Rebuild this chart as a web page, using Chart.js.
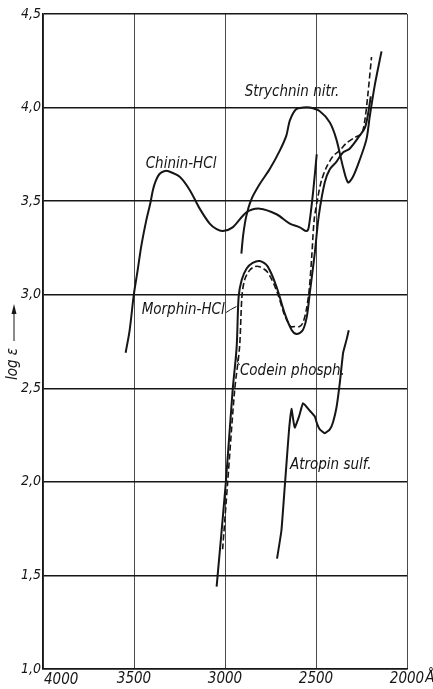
<!DOCTYPE html>
<html>
<head>
<meta charset="utf-8">
<script src="https://cdn.jsdelivr.net/npm/chart.js@4.4.1/dist/chart.umd.min.js"></script>
<style>
  html, body { margin: 0; padding: 0; background: #fff; }
  #wrap { width: 433px; height: 689px; position: relative; }
</style>
</head>
<body>
<div id="wrap"><canvas id="c" width="433" height="689"></canvas></div>
<script>
// Absorption spectra of alkaloid salts: wavelength (Å) against log ε.

const chininWl  = [3546, 3524, 3501, 3480, 3460, 3432, 3410, 3396, 3380, 3360, 3335, 3310, 3249, 3194, 3139, 3084, 3046, 3012, 2958, 2882, 2809, 2717, 2644, 2589, 2552, 2540, 2518, 2496];
const chininLog = [2.69, 2.81, 3.00, 3.13, 3.26, 3.40, 3.49, 3.56, 3.61, 3.645, 3.66, 3.66, 3.63, 3.56, 3.46, 3.38, 3.35, 3.34, 3.36, 3.44, 3.46, 3.43, 3.38, 3.36, 3.34, 3.36, 3.53, 3.75];

const strychninWl  = [2910, 2900, 2883, 2855, 2810, 2755, 2699, 2663, 2644, 2611, 2571, 2534, 2479, 2424, 2388, 2351, 2324, 2297, 2260, 2223, 2205, 2177, 2140];
const strychninLog = [3.22, 3.32, 3.42, 3.51, 3.59, 3.67, 3.77, 3.85, 3.93, 3.99, 4.00, 4.00, 3.98, 3.92, 3.83, 3.68, 3.60, 3.63, 3.72, 3.83, 3.95, 4.12, 4.30];

const morphinWl  = [3046, 2996, 2958, 2936, 2925, 2908, 2881, 2848, 2809, 2765, 2716, 2672, 2633, 2606, 2573, 2551, 2534, 2507, 2485, 2452, 2424, 2388, 2352, 2315, 2260, 2232, 2215, 2199];
const morphinLog = [1.44, 1.99, 2.49, 2.72, 2.99, 3.08, 3.14, 3.17, 3.18, 3.15, 3.04, 2.90, 2.81, 2.79, 2.81, 2.88, 3.01, 3.22, 3.42, 3.60, 3.67, 3.71, 3.76, 3.78, 3.85, 3.89, 3.96, 4.06];

const codeinWl  = [3013, 2986, 2947, 2920, 2907, 2892, 2865, 2837, 2810, 2766, 2716, 2672, 2639, 2617, 2590, 2572, 2553, 2537, 2523, 2510, 2490, 2470, 2443, 2407, 2370, 2333, 2287, 2250, 2232, 2216, 2195];
const codeinLog = [1.64, 1.99, 2.49, 2.72, 2.99, 3.08, 3.13, 3.15, 3.15, 3.12, 3.02, 2.89, 2.83, 2.83, 2.83, 2.85, 2.92, 3.03, 3.21, 3.40, 3.52, 3.61, 3.68, 3.74, 3.77, 3.81, 3.84, 3.86, 3.93, 4.06, 4.27];

const atropinWl  = [2714, 2690, 2672, 2662, 2648, 2635, 2617, 2593, 2571, 2534, 2507, 2494, 2479, 2452, 2424, 2406, 2387, 2369, 2351, 2332, 2320];
const atropinLog = [1.59, 1.74, 1.97, 2.10, 2.28, 2.39, 2.29, 2.35, 2.42, 2.38, 2.35, 2.31, 2.28, 2.26, 2.28, 2.32, 2.40, 2.53, 2.69, 2.76, 2.81];

const xTicks = [4000, 3500, 3000, 2500, 2000];
const yTicks = [1.0, 1.5, 2.0, 2.5, 3.0, 3.5, 4.0, 4.5];

const LETTER = '"Liberation Sans Narrow", "DejaVu Sans Condensed", "Liberation Sans", sans-serif';
const INK = '#161616';

const pts = (xs, ys) => xs.map((x, i) => ({ x, y: ys[i] }));

function curve(label, xs, ys, extra) {
  return Object.assign({
    label,
    data: pts(xs, ys),
    showLine: true,
    borderColor: INK,
    borderWidth: 2,
    pointRadius: 0,
    tension: 0.3,
    fill: false
  }, extra || {});
}

// Curve names, written beside the curves (anchor in data units, text left-aligned)
const notes = [
  { text: 'Strychnin nitr.', x: 2892, y: 4.08 },
  { text: 'Chinin-HCl',      x: 3436, y: 3.70 },
  { text: 'Morphin-HCl',     x: 3458, y: 2.92 },
  { text: 'Codein phosph.',  x: 2918, y: 2.59 },
  { text: 'Atropin sulf.',   x: 2643, y: 2.09 }
];
// short leader strokes from a name to its curve
const leaders = [
  [[2994, 2.905], [2970, 2.92], [2937, 2.937]],
  [[2937, 2.67], [2930, 2.64], [2920, 2.625]]
];

const decorations = {
  id: 'decorations',
  afterDatasetsDraw(chart) {
    const { ctx, scales: { x, y } } = chart;
    ctx.save();
    ctx.fillStyle = INK;
    ctx.strokeStyle = INK;

    // curve names
    ctx.font = 'italic 15px ' + LETTER;
    ctx.textAlign = 'left';
    ctx.textBaseline = 'middle';
    notes.forEach(n => ctx.fillText(n.text, x.getPixelForValue(n.x), y.getPixelForValue(n.y)));

    ctx.lineWidth = 1;
    leaders.forEach(l => {
      ctx.beginPath();
      l.forEach((p, i) => {
        const px = x.getPixelForValue(p[0]), py = y.getPixelForValue(p[1]);
        if (i === 0) ctx.moveTo(px, py); else ctx.lineTo(px, py);
      });
      ctx.stroke();
    });

    // wavelength tick labels
    ctx.font = 'italic 15px ' + LETTER;
    ctx.textBaseline = 'middle';
    const ty = chart.chartArea.bottom + 10;
    xTicks.forEach((v, i) => {
      const px = x.getPixelForValue(v);
      if (i === 0) {
        ctx.textAlign = 'left';
        ctx.fillText(String(v), px + 1, ty + 1);
      } else {
        ctx.textAlign = 'center';
        ctx.fillText(String(v), px, ty);
      }
      if (v === 2000) {
        const w = ctx.measureText(String(v)).width;
        ctx.textAlign = 'left';
        ctx.fillText('Å', px + w / 2 + 1, ty - 1);
      }
    });

    // vertical axis title with arrow
    ctx.save();
    ctx.translate(13, 364);
    ctx.rotate(-Math.PI / 2);
    ctx.font = 'italic 15px ' + LETTER;
    ctx.textAlign = 'center';
    ctx.textBaseline = 'middle';
    ctx.fillText('log ε', 0, 0);
    ctx.restore();

    ctx.lineWidth = 1;
    ctx.beginPath();
    ctx.moveTo(14, 341);
    ctx.lineTo(14, 312);
    ctx.stroke();
    ctx.beginPath();
    ctx.moveTo(14, 304);
    ctx.lineTo(11.5, 314);
    ctx.lineTo(16.5, 314);
    ctx.closePath();
    ctx.fill();

    ctx.restore();
  }
};

new Chart(document.getElementById('c'), {
  type: 'scatter',
  data: {
    datasets: [
      curve('Chinin-HCl', chininWl, chininLog),
      curve('Strychnin nitr.', strychninWl, strychninLog),
      curve('Morphin-HCl', morphinWl, morphinLog),
      curve('Codein phosph.', codeinWl, codeinLog, { borderWidth: 1.6, borderDash: [6, 3] }),
      curve('Atropin sulf.', atropinWl, atropinLog, { tension: 0.12 })
    ]
  },
  options: {
    responsive: false,
    animation: false,
    devicePixelRatio: 1,
    layout: { padding: { top: 14, right: 26, left: 0, bottom: 0 } },
    plugins: { legend: { display: false }, tooltip: { enabled: false } },
    scales: {
      x: {
        type: 'linear',
        reverse: true,
        min: 2000,
        max: 4000,
        afterBuildTicks: s => { s.ticks = xTicks.map(v => ({ value: v })); },
        ticks: { display: false },
        grid: { color: '#4a4a4a', lineWidth: 1, drawTicks: false },
        border: { display: true, color: INK, width: 1.5 },
        afterFit: s => { s.height = 20; }
      },
      y: {
        min: 1,
        max: 4.5,
        afterBuildTicks: s => { s.ticks = yTicks.map(v => ({ value: v })); },
        ticks: {
          padding: 2,
          color: INK,
          font: { family: LETTER, size: 14, style: 'italic' },
          callback: v => v.toFixed(1).replace('.', ',')
        },
        grid: { color: INK, lineWidth: 1.4, drawTicks: false },
        border: { display: true, color: INK, width: 1.5 },
        afterFit: s => { s.width = 43; }
      }
    }
  },
  plugins: [decorations]
});
</script>
</body>
</html>
